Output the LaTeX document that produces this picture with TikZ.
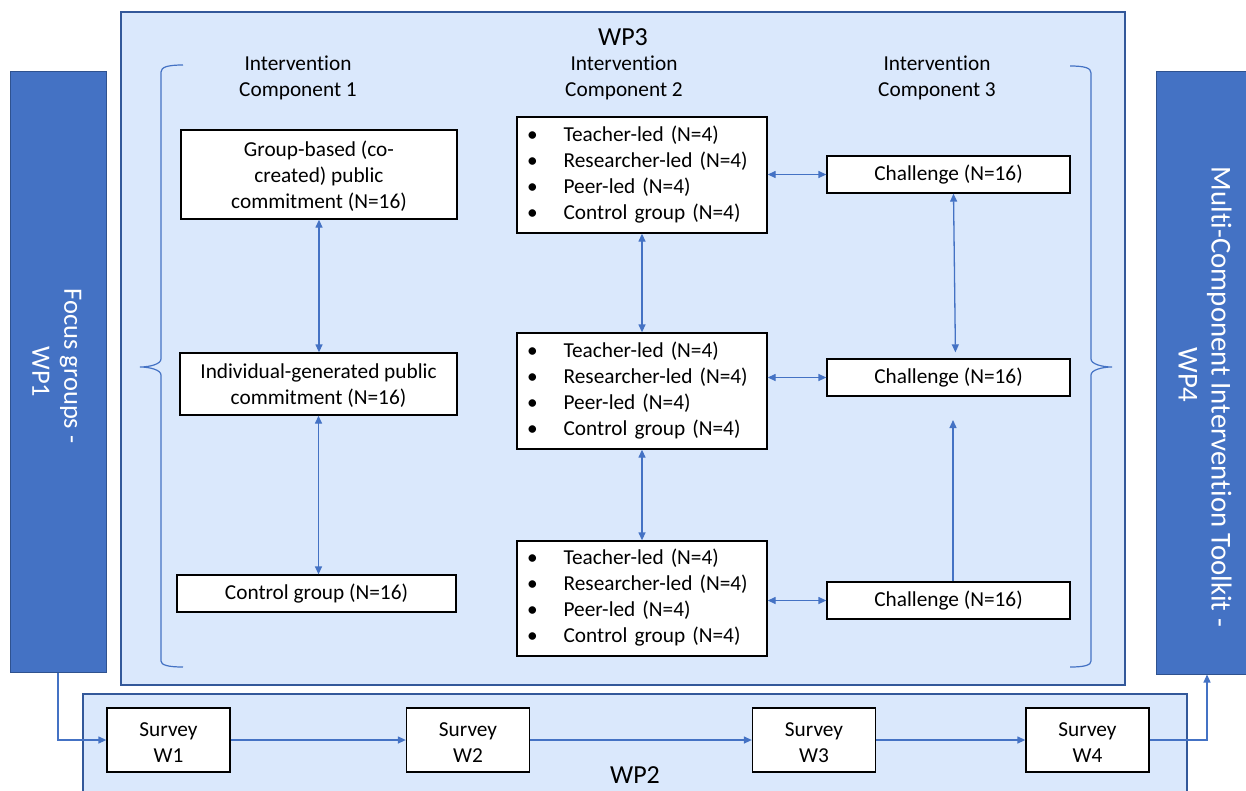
\documentclass[tikz,border=0pt]{standalone}
\usepackage{fontspec}
\setmainfont{Carlito}[Ligatures=NoCommon]
\usetikzlibrary{arrows.meta,calc}
\definecolor{wpdark}{HTML}{4472C4}
\definecolor{wpborder}{HTML}{2F528F}
\definecolor{wplight}{HTML}{DAE8FC}
\definecolor{linecol}{HTML}{4472C4}
\begin{document}
\begin{tikzpicture}[x=1pt,y=-1pt,
  every node/.style={font=\fontsize{21.3}{26}\selectfont},
  wbox/.style={draw=black,line width=1.3pt,fill=white,inner sep=0pt,align=center},
  wpblue/.style={draw=wpborder,line width=1pt,fill=wpdark,inner sep=0pt},
  wparea/.style={draw=wpborder!80!wpdark,line width=1.4pt,fill=wplight},
  wptext/.style={text=white,font=\fontsize{26.5}{32}\selectfont,align=center,rotate=-90},
  conn/.style={draw=linecol,line width=1.3pt},
  tip/.style={-{Triangle[length=8pt,width=7pt]}},
  dtip/.style={{Triangle[length=8pt,width=7pt]}-{Triangle[length=8pt,width=7pt]}},
  brace/.style={draw=linecol,line width=1.2pt},
  bullets/.style={wbox,align=left,text width=230pt,inner xsep=10pt,minimum width=250pt,minimum height=116pt}]
\useasboundingbox (0,0) rectangle (1246,790);
\clip (0,0) rectangle (1246,790);
\fill[white] (0,0) rectangle (1246,790);

% background work packages
\node[wparea,minimum width=1004pt,minimum height=673pt,inner sep=0pt] (WP3) at (623,348.5) {};
\node[wparea,minimum width=1104pt,minimum height=120pt,inner sep=0pt] (WP2) at (635,754) {};
\node[wpblue,minimum width=96pt,minimum height=601pt] (WP1) at (58,371.5) {};
\node[wpblue,minimum width=102pt,minimum height=603pt] (WP4) at (1207,372.5) {};
\node[wptext] (WP1t) at (57,366) {Focus groups -\\\hspace*{12pt}WP1};
\node[wptext,font=\fontsize{28.8}{33}\selectfont] (WP4t) at (1205,397) {Multi-Component Intervention Toolkit -\\WP4\hspace*{44pt}};

\node[font=\fontsize{26}{30}\selectfont] (WP3t) at (623,37) {WP3};
\node[font=\fontsize{26}{30}\selectfont] (WP2t) at (635,775) {WP2};

% headers
\node[align=center] (H1) at (298,78) {Intervention\\Component 1};
\node[align=center] (H2) at (624,78) {Intervention\\Component 2};
\node[align=center] (H3) at (937,78) {Intervention\\Component 3};

% braces
\draw[brace] (183,65) .. controls (168,65) and (161,67) .. (161,72) -- (161,359)
  .. controls (161,364) and (150,367) .. (140,367)
  .. controls (150,367) and (161,370) .. (161,375) -- (161,661)
  .. controls (161,665) and (168,667) .. (183,667);
\draw[brace] (1070,66) .. controls (1085,66) and (1091,68) .. (1091,73) -- (1091,359)
  .. controls (1091,364) and (1102,367) .. (1112,367)
  .. controls (1102,367) and (1091,370) .. (1091,375) -- (1091,661)
  .. controls (1091,665) and (1085,667) .. (1070,667);

% component 1
\node[wbox,minimum width=276pt,minimum height=89pt] (G1) at (319,174.5) {\strut Group-based (co-\\created) public\\commitment (N=16)};
\node[wbox,minimum width=277pt,minimum height=62pt] (G2) at (318.5,384) {\strut Individual-generated public\\commitment (N=16)};
\node[wbox,minimum width=279pt,minimum height=37pt] (G3) at (316.5,593.5) {\raisebox{-2pt}{Control group (N=16)}};

% component 2
\newcommand{\bulletlist}{\raisebox{-2pt}{\begin{tabular}{@{}l@{\hspace{26pt}}l@{}}\textbullet&Teacher-led (N=4)\\\textbullet&Researcher-led (N=4)\\\textbullet&Peer-led (N=4)\\\textbullet&Control group (N=4)\end{tabular}}}
\node[bullets] (L1) at (642,175) {\bulletlist};
\node[bullets] (L2) at (642,391) {\bulletlist};
\node[bullets,minimum height=115pt] (L3) at (642,598.5) {\bulletlist};

% component 3
\node[wbox,minimum width=243pt,minimum height=37pt] (C1) at (948.5,174.5) {\raisebox{-2pt}{Challenge (N=16)}};
\node[wbox,minimum width=243pt,minimum height=37pt] (C2) at (948.5,377.5) {\raisebox{-2pt}{Challenge (N=16)}};
\node[wbox,minimum width=243pt,minimum height=37pt] (C3) at (948.5,600.5) {\raisebox{-2pt}{Challenge (N=16)}};
\coordinate (C3end) at (953,420);

% surveys
\node[wbox,minimum width=123pt,minimum height=64pt] (S1) at (168.5,740) {\strut Survey\\W1};
\node[wbox,minimum width=123pt,minimum height=64pt] (S2) at (468,740) {\strut Survey\\W2};
\node[wbox,minimum width=123pt,minimum height=64pt] (S3) at (814,740) {\strut Survey\\W3};
\node[wbox,minimum width=123pt,minimum height=64pt] (S4) at (1087.5,740) {\strut Survey\\W4};

% connectors component 1
\draw[conn,dtip] (G1.south) -- (G1.south |- G2.north);
\draw[conn,dtip] (G2.south) -- (G2.south |- G3.north);
% component 2
\draw[conn,dtip] (L1.south) -- (L2.north);
\draw[conn,dtip] (L2.south) -- (L3.north);
\draw[conn,dtip] (C1.west -| L1.east) -- (C1.west);
\draw[conn,dtip] (C2.west -| L2.east) -- (C2.west);
\draw[conn,dtip] (C3.west -| L3.east) -- (C3.west);
% component 3
\draw[conn,dtip,shorten >=6pt] ([xshift=5pt]C1.south) -- ([xshift=7pt]C2.north);
\draw[conn,tip] (C3.north -| C3end) -- (C3end);
% surveys
\draw[conn,tip] (WP1.south) |- (S1.west);
\draw[conn,tip] (S1.east) -- (S2.west);
\draw[conn,tip] (S2.east) -- (S3.west);
\draw[conn,tip] (S3.east) -- (S4.west);
\draw[conn,tip] (S4.east) -| (WP4.south);
\end{tikzpicture}
\end{document}
